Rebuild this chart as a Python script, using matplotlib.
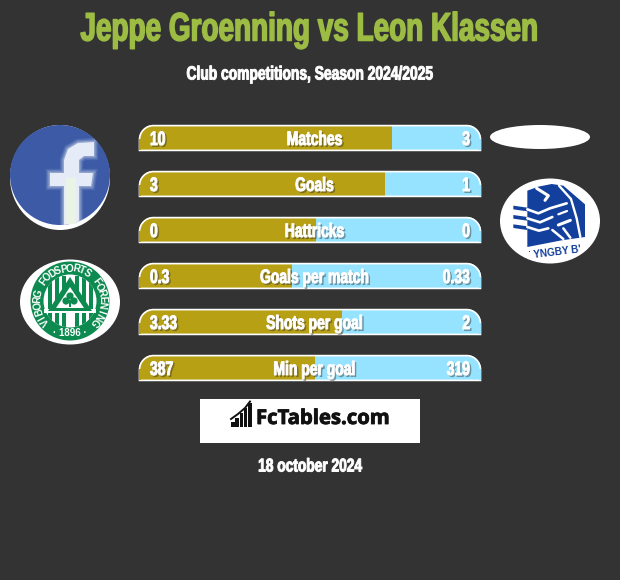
import numpy as np
import matplotlib
matplotlib.use('Agg')
import matplotlib.pyplot as plt
import matplotlib.patheffects as pe
from matplotlib.patches import Circle, Ellipse, Polygon, Rectangle, PathPatch
from matplotlib.path import Path
from matplotlib.transforms import Affine2D

### Данные
stat_names = ['Matches', 'Goals', 'Hattricks', 'Goals per match', 'Shots per goal', 'Min per goal']
left_values = ['10', '3', '0', '0.3', '3.33', '387']
right_values = ['3', '1', '0', '0.33', '2', '319']
left_share = [0.740, 0.719, 0.517, 0.446, 0.594, 0.514]

title_text = 'Jeppe Groenning vs Leon Klassen'
subtitle_text = 'Club competitions, Season 2024/2025'
date_text = '18 october 2024'

BG = '#333333'
GOLD = '#b8a014'
SKY = '#96e3ff'
FONT = ['Liberation Sans', 'DejaVu Sans']

plt.rcParams['font.family'] = FONT

fig = plt.figure(figsize=(6.2, 5.8), dpi=100, facecolor=BG)
ax = fig.add_axes([0, 0, 1, 1])
ax.set_xlim(0, 620)
ax.set_ylim(580, 0)
ax.axis('off')


class TallText(pe.AbstractPathEffect):
    """Растягивает текст по высоте от базовой линии (узкий жирный шрифт как в оригинале)."""

    def __init__(self, base_y, sy, stroke=0.0, shadow=False):
        super().__init__()
        self.base = 580 - base_y
        self.sy = sy
        self.stroke = stroke
        self.shadow = shadow

    def draw_path(self, renderer, gc, tpath, affine, rgbFace=None):
        tall = affine + Affine2D().translate(0, -self.base).scale(1, self.sy).translate(0, self.base)
        if self.shadow:
            gc_s = renderer.new_gc()
            gc_s.copy_properties(gc)
            gc_s.set_alpha(0.35)
            gc_s.set_linewidth(0.6)
            gc_s.set_foreground('#303030')
            renderer.draw_path(gc_s, tpath, tall + Affine2D().translate(1.6, -1.6), (0.19, 0.19, 0.19, 0.35))
            gc_s.restore()
        gc_t = renderer.new_gc()
        gc_t.copy_properties(gc)
        gc_t.set_linewidth(self.stroke)
        gc_t.set_foreground(rgbFace)
        renderer.draw_path(gc_t, tpath, tall, rgbFace)
        gc_t.restore()


def tall_text(x, base_y, s, size, sy, color='white', ha='center', stroke=0.7, shadow=False):
    t = ax.text(x, base_y, s, color=color, fontsize=size, fontweight='bold', ha=ha, va='baseline', zorder=5)
    t.set_path_effects([TallText(base_y, sy, stroke, shadow)])
    return t


def zoomed(points, x0, y0):
    # координаты со скриншота (3x) в пиксели
    return [(x0 + p[0] / 3, y0 + p[1] / 3) for p in points]


def rounded_top_path(x, y, w, h, r):
    k = 0.45 * r
    verts = [(x, y + h), (x, y + r),
             (x, y + k), (x + k, y), (x + r, y),
             (x + w - r, y),
             (x + w - k, y), (x + w, y + k), (x + w, y + r),
             (x + w, y + h), (x, y + h)]
    codes = [Path.MOVETO, Path.LINETO,
             Path.CURVE4, Path.CURVE4, Path.CURVE4,
             Path.LINETO,
             Path.CURVE4, Path.CURVE4, Path.CURVE4,
             Path.LINETO, Path.CLOSEPOLY]
    return Path(verts, codes)


def draw_bars():
    bar_x, bar_w, bar_h = 139, 342, 26
    radius = 14
    for i, name in enumerate(stat_names):
        y = 125 + 46 * i
        outline = PathPatch(rounded_top_path(bar_x, y, bar_w, bar_h, radius), fc='none', ec='none')
        ax.add_patch(outline)
        split = bar_w * left_share[i]
        left = ax.barh(y + bar_h / 2, split, height=bar_h, left=bar_x, color=GOLD, zorder=2)[0]
        right = ax.barh(y + bar_h / 2, bar_w - split, height=bar_h, left=bar_x + split, color=SKY, zorder=2)[0]
        left.set_clip_path(outline)
        right.set_clip_path(outline)
        # белая окантовка сверху и снизу
        edge = PathPatch(rounded_top_path(bar_x + 0.5, y + 0.6, bar_w - 1, bar_h - 1.2, radius),
                         fc='none', ec='white', lw=1.2, zorder=3)
        ax.add_patch(edge)
        ax.add_patch(Rectangle((bar_x, y + radius), 1.6, bar_h - radius - 1.5, fc=GOLD, ec='none', zorder=3))
        ax.add_patch(Rectangle((bar_x + bar_w - 1.6, y + radius), 1.6, bar_h - radius - 1.5, fc=SKY, ec='none', zorder=3))
        base = y + 20
        tall_text(bar_x + 11, base, left_values[i], 10, 1.4, ha='left', shadow=True)
        tall_text(bar_x + bar_w * 0.513, base, name, 10, 1.4, shadow=True)
        tall_text(bar_x + bar_w - 11, base, right_values[i], 10, 1.4, ha='right', shadow=True)


def draw_facebook():
    ax.add_patch(Ellipse((60, 177.5), 100, 105, fc='white', ec='none', zorder=2))
    disc = Circle((60, 175), 50, fc='#3c5aa6', ec='none', zorder=3)
    ax.add_patch(disc)
    f_shape = [(64, 225), (64, 186), (50, 186), (50, 173), (64, 173), (64, 160), (68, 149), (78, 143),
               (94, 142), (94, 156), (84, 156), (79, 160), (79, 173), (93, 173), (91, 186), (79, 186), (79, 225)]
    for lw, alpha in [(6, 0.12), (4, 0.2), (2, 0.35)]:
        p = Polygon(f_shape, fc='none', ec='#dfe7f5', lw=lw, alpha=alpha, zorder=4)
        ax.add_patch(p)
        p.set_clip_path(disc)
    p = Polygon(f_shape, fc='#e6ecf7', ec='none', zorder=5)
    ax.add_patch(p)
    p.set_clip_path(disc)
    ax.add_patch(Rectangle((66, 178), 10, 46, fc='#eaf3e6', ec='none', zorder=5))


def draw_viborg():
    green = '#0d8a50'
    cx, cy = 70, 302
    ax.add_patch(Ellipse((cx, cy), 100, 85, fc='white', ec='none', zorder=2))
    ax.add_patch(Circle((cx, cy - 1), 39.5, fc=green, ec='none', zorder=3))
    inner = Circle((cx, cy - 1), 26.5, fc='white', ec='none', zorder=4)
    ax.add_patch(inner)
    for sx in [-22, -15, -8, 5, 12, 19]:
        r = Rectangle((cx + sx, cy - 26), 3.5, 52, fc=green, ec='none', zorder=6)
        ax.add_patch(r)
        r.set_clip_path(inner)
    ax.add_patch(Rectangle((cx - 26, cy + 7), 52, 4, fc='white', ec='none', zorder=6))
    ax.add_patch(Polygon([(cx, cy - 25), (cx + 22, cy + 9), (cx - 22, cy + 9)], fc=green, ec='none', zorder=7))
    ax.add_patch(Polygon([(cx, cy - 15), (cx + 14, cy + 6), (cx - 14, cy + 6)], fc='white', ec='none', zorder=8))
    for dx, dy in [(-4, -1), (4, -1), (0, -6)]:
        ax.add_patch(Circle((cx + dx, cy + dy), 3.6, fc=green, ec='none', zorder=9))
    ax.add_patch(Rectangle((cx - 1, cy - 2), 2, 7, fc=green, ec='none', zorder=9))
    # подпись по кругу
    ring_text = 'VIBORG FODSPORTS FORENING'
    angles = np.linspace(-130, 130, len(ring_text))
    for ch, a in zip(ring_text, angles):
        rad = np.radians(a)
        ax.text(cx + 32.5 * np.sin(rad), cy - 1 - 32.5 * np.cos(rad), ch, rotation=-a, rotation_mode='anchor',
                color='white', fontsize=7.2, fontweight='bold', ha='center', va='center', zorder=10)
    ax.text(cx, cy + 31.5, '· 1896 ·', color='white', fontsize=7, fontweight='bold', ha='center', va='center', zorder=10)


def draw_lyngby():
    blue = '#12409c'
    ax.add_patch(Ellipse((550, 221), 100, 85, fc='white', ec='none', zorder=2))
    body = zoomed([(97, 47), (130, 35), (170, 27), (205, 32), (270, 88), (270, 186), (200, 196), (97, 216)], 495, 175)
    ax.add_patch(Polygon(body, fc=blue, ec='none', zorder=3))
    # волны слева
    for y0 in [92, 120, 148]:
        wave = zoomed([(55, y0), (97, y0 + 6), (97, y0 + 17), (55, y0 + 11)], 495, 175)
        ax.add_patch(Polygon(wave, fc=blue, ec='none', zorder=3))
    # белые линии лица и шлема
    white_lines = [
        ([(97, 103), (130, 115), (165, 100), (215, 85)], 1.9),
        ([(97, 130), (135, 142), (172, 126)], 1.9),
        ([(97, 156), (132, 167), (160, 160)], 1.9),
        ([(125, 40), (160, 62), (150, 76)], 2.2),
        ([(192, 32), (228, 72), (245, 130), (256, 186)], 1.7),
        ([(190, 118), (216, 108)], 1.6),
        ([(190, 150), (226, 136)], 2.2),
        ([(172, 165), (205, 192)], 1.8),
        ([(205, 160), (226, 188)], 1.8),
    ]
    for pts, lw in white_lines:
        xy = np.array(zoomed(pts, 495, 175))
        ax.plot(xy[:, 0], xy[:, 1], color='white', lw=lw, solid_capstyle='round', zorder=4)
    ax.text(557.5, 252, "YNGBY B'", color=blue, fontsize=7.2, fontweight='bold', rotation=7,
            ha='center', va='center', zorder=5)
    ax.add_patch(Rectangle((529, 250.5), 1.2, 1.5, fc=blue, ec='none', zorder=5))


def draw_brand():
    ax.add_patch(Rectangle((200, 399), 220, 44, fc='white', ec='none', zorder=2))
    heights = [5, 9, 14, 19, 24]
    for i, h in enumerate(heights):
        ax.bar(232.8 + i * 4.3, h, width=3.5, bottom=427 - h, color='#111111', zorder=3)
    ax.plot([231, 238, 245, 250], [419, 414, 408, 401.5], color='#111111', lw=1.4, zorder=3)
    t = ax.text(256, 419, 'FcTables.com', color='#111111', fontsize=14.6, fontweight='bold', ha='left', va='center',
                family=['Open Sans', 'DejaVu Sans'], zorder=3)
    t.set_path_effects([pe.withStroke(linewidth=0.6, foreground='#111111')])


# заголовки
tall_text(309.5, 40.5, title_text, 20.1, 1.42, color='#9cbc44', stroke=1.1)
tall_text(309.5, 79.5, subtitle_text, 9.95, 1.38)

# белый овал справа сверху
ax.add_patch(Ellipse((540, 137), 100, 24, fc='white', ec='none', zorder=2))

draw_bars()
draw_facebook()
draw_viborg()
draw_lyngby()
draw_brand()

tall_text(310, 471.5, date_text, 9.9, 1.35)

fig.savefig('out.png', dpi=100, facecolor=BG)
